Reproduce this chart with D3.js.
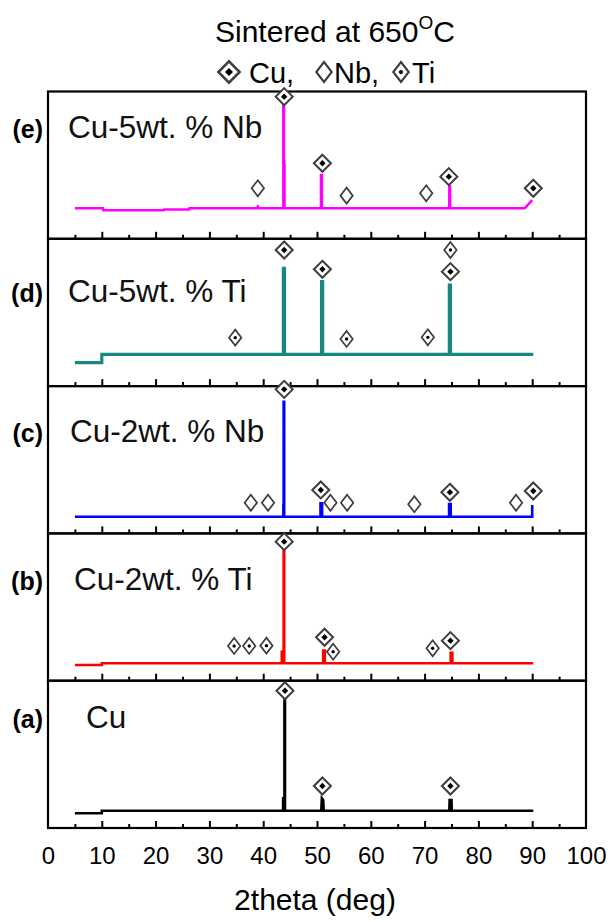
<!DOCTYPE html>
<html>
<head>
<meta charset="utf-8">
<script src="https://cdn.jsdelivr.net/npm/d3@7"></script>
<style>
  html, body { margin: 0; padding: 0; background: #fff; }
  svg { display: block; font-family: "Liberation Sans", Arial, sans-serif; }
</style>
</head>
<body>
<svg id="chart" width="613" height="922"></svg>
<script>
// XRD patterns of sintered Cu and Cu alloys (2theta in degrees, intensity in a.u. 0-100 per panel)
const panelIds = ["(e)", "(d)", "(c)", "(b)", "(a)"];
const sampleNames = ["Cu-5wt. % Nb", "Cu-5wt. % Ti", "Cu-2wt. % Nb", "Cu-2wt. % Ti", "Cu"];
const xTicks = [0, 10, 20, 30, 40, 50, 60, 70, 80, 90, 100];
const minorTicks = [5, 15, 25, 35, 45, 55, 65, 75, 85, 95];

const patternE = [[5, 20.7], [10.2, 20.7], [10.3, 19.4], [21.5, 19.4], [21.6, 19.9], [26.2, 19.9], [26.3, 20.7],
  [38.8, 20.7], [39.0, 21.9], [39.2, 20.7], [43.75, 20.7], [43.75, 96.6], [43.85, 96.6], [43.85, 50.0],
  [43.95, 50.0], [43.95, 20.7], [50.75, 20.7], [50.75, 43.3], [50.9, 43.3], [50.9, 20.7], [74.6, 20.7],
  [74.6, 35.4], [74.75, 35.4], [74.75, 20.7], [88.6, 20.7], [90.0, 26.3]];
const patternD = [[5, 15.9], [10, 15.9], [10, 21.6], [43.75, 21.6], [43.75, 80.0], [43.95, 80.0], [43.95, 21.6],
  [50.85, 21.6], [50.85, 70.9], [51.05, 70.9], [51.05, 21.6], [74.6, 21.6], [74.6, 68.6], [74.8, 68.6],
  [74.8, 21.6], [90.2, 21.6]];
const patternC = [[5, 11.3], [43.75, 11.3], [43.75, 19.3], [43.8, 19.3], [43.8, 89.4], [43.9, 89.4],
  [43.9, 11.3], [50.65, 11.3], [50.65, 20.4], [50.95, 20.4], [50.95, 11.3], [74.55, 11.3], [74.55, 20.0],
  [74.85, 20.0], [74.85, 11.3], [90.0, 11.3], [90.0, 19.3]];
const patternB = [[5, 10.7], [10, 10.7], [10, 11.8], [43.45, 11.8], [43.45, 19.7], [43.8, 19.7], [43.8, 88.7],
  [43.9, 88.7], [43.9, 11.8], [51.15, 11.8], [51.15, 20.4], [51.45, 20.4], [51.45, 11.8], [74.85, 11.8],
  [74.85, 19.0], [75.15, 19.0], [75.15, 11.8], [90.2, 11.8]];
const patternA = [[5, 10.0], [10, 10.0], [10, 11.7], [43.7, 11.7], [43.7, 20.2], [43.95, 20.2], [43.95, 88.1],
  [44.05, 88.1], [44.05, 11.7], [50.8, 11.7], [50.9, 20.2], [51.15, 19.0], [51.25, 11.7], [74.6, 11.7],
  [74.65, 19.0], [75.0, 19.0], [75.05, 11.7], [90.2, 11.7]];

// phase markers: [phase, 2theta, intensity]
const markersE = [["Cu", 43.9, 96.5], ["Cu", 51.0, 51.3], ["Nb", 39.0, 34.3], ["Nb", 55.5, 29.3],
  ["Nb", 70.3, 30.9], ["Cu", 74.5, 42.2], ["Cu", 90.2, 34.3]];
const markersD = [["Cu", 43.9, 92.4], ["Cu", 51.0, 79.3], ["Ti", 74.8, 92.4], ["Cu", 74.8, 77.7],
  ["Ti", 34.8, 32.9], ["Ti", 55.5, 32.0], ["Ti", 70.6, 33.1]];
const markersC = [["Cu", 43.9, 97.8], ["Cu", 50.7, 29.5], ["Nb", 37.7, 20.8], ["Nb", 40.9, 20.8],
  ["Nb", 52.5, 20.8], ["Nb", 55.6, 20.8], ["Nb", 68.1, 19.8], ["Cu", 74.7, 27.9], ["Nb", 87.0, 20.8],
  ["Cu", 90.2, 28.8]];
const markersB = [["Cu", 43.9, 94.4], ["Ti", 34.6, 23.6], ["Ti", 37.4, 23.6], ["Ti", 40.6, 23.8],
  ["Cu", 51.4, 29.5], ["Ti", 53.0, 19.7], ["Ti", 71.5, 22.0], ["Cu", 74.8, 27.2]];
const markersA = [["Cu", 44.05, 93.2], ["Cu", 51.0, 28.5], ["Cu", 74.8, 28.5]];

const patterns = [patternE, patternD, patternC, patternB, patternA];
const markerSets = [markersE, markersD, markersC, markersB, markersA];
const legendPhases = ["Cu", "Nb", "Ti"];
const legendLabels = ["Cu,", "Nb,", "Ti"];

// styling
const lineColors = ["#ff00ff", "#16897f", "#0000ff", "#ff0000", "#000000"];
const lineWidths = [2.6, 3.2, 2.6, 2.6, 2.6];
const labelX = [68, 68, 70, 74, 86];
const labelBaseline = [46.7, 62.9, 55.6, 56.6, 47.6];

const svg = d3.select("#chart");
const plotLeft = 48, plotRight = 586, plotTop = 91.5, panelH = 147.3;

const x = d3.scaleLinear().domain([0, 100]).range([plotLeft, plotRight]);

function drawMarker(g, phase, cx, cy, k = 1) {
  const m = g.append("g").attr("transform", `translate(${cx},${cy})`);
  const dia = (w, h) => `M0,${-h}L${w},0L0,${h}L${-w},0Z`;
  if (phase === "Cu") {
    m.append("path").attr("d", dia(8.5 * k, 8.5 * k))
      .attr("fill", "#fff").attr("stroke", "#3d3d3d").attr("stroke-width", 2 * k);
    m.append("path").attr("d", dia(3.2 * k, 3.2 * k)).attr("fill", "#000");
  } else {
    m.append("path").attr("d", dia(6.2 * k, 8 * k))
      .attr("fill", "#fff").attr("stroke", "#3d3d3d").attr("stroke-width", 1.7 * k);
    if (phase === "Ti") m.append("circle").attr("r", 1.7 * k).attr("fill", "#000");
  }
}

panelIds.forEach((id, i) => {
  const top = plotTop + i * panelH;
  const bottom = top + panelH;
  const y = d3.scaleLinear().domain([0, 100]).range([bottom, top]);
  const g = svg.append("g");

  // inward ticks along the bottom edge
  g.append("g").attr("transform", `translate(0,${bottom})`)
    .call(d3.axisBottom(x).tickValues(xTicks.slice(1, -1)).tickSize(-7).tickFormat(""))
    .call(a => a.select(".domain").remove())
    .call(a => a.selectAll("line").attr("stroke", "#000").attr("stroke-width", 2));
  g.append("g").attr("transform", `translate(0,${bottom})`)
    .call(d3.axisBottom(x).tickValues(minorTicks).tickSize(-4).tickFormat(""))
    .call(a => a.select(".domain").remove())
    .call(a => a.selectAll("line").attr("stroke", "#000").attr("stroke-width", 2));

  // diffraction pattern
  const line = d3.line().x(d => x(d[0])).y(d => y(d[1]));
  g.append("path").datum(patterns[i]).attr("d", line)
    .attr("fill", "none").attr("stroke", lineColors[i]).attr("stroke-width", lineWidths[i])
    .attr("stroke-linejoin", "miter");

  // panel frame
  g.append("rect").attr("x", plotLeft).attr("y", top)
    .attr("width", plotRight - plotLeft).attr("height", panelH)
    .attr("fill", "none").attr("stroke", "#000").attr("stroke-width", 2.2);

  // phase markers
  markerSets[i].forEach(([phase, tt, inten]) => drawMarker(g, phase, x(tt), y(inten)));

  // labels
  g.append("text").attr("x", 43).attr("y", top + labelBaseline[i])
    .attr("text-anchor", "end").attr("font-weight", "bold").attr("font-size", 25).text(id);
  g.append("text").attr("x", labelX[i]).attr("y", top + labelBaseline[i])
    .attr("font-size", 31.5).attr("fill", "#111").text(sampleNames[i]);
});

// x axis labels under the lowest panel
const axisBottomY = plotTop + panelIds.length * panelH;
svg.append("g").attr("transform", `translate(0,${axisBottomY})`)
  .call(d3.axisBottom(x).tickValues(xTicks).tickSize(0).tickPadding(19))
  .call(a => a.select(".domain").remove())
  .call(a => a.selectAll("text").attr("font-size", 24).attr("fill", "#000")
    .attr("font-family", "'Liberation Sans', Arial, sans-serif"));

svg.append("text").attr("x", (plotLeft + plotRight) / 2 - 2).attr("y", 910)
  .attr("text-anchor", "middle").attr("font-size", 30).text("2theta (deg)");

// title
const title = svg.append("text").attr("x", 215).attr("y", 42).attr("font-size", 30);
title.append("tspan").text("Sintered at 650");
title.append("tspan").attr("dy", -13).attr("font-size", 19).text("O");
title.append("tspan").attr("dy", 13).text("C");

// legend
const legendSymbolX = [229, 324, 401];
const legendTextX = [249, 334, 412];
legendPhases.forEach((phase, j) => {
  drawMarker(svg, phase, legendSymbolX[j], 72, 1.25);
  svg.append("text").attr("x", legendTextX[j]).attr("y", 83).attr("font-size", 29).text(legendLabels[j]);
});
</script>
</body>
</html>
